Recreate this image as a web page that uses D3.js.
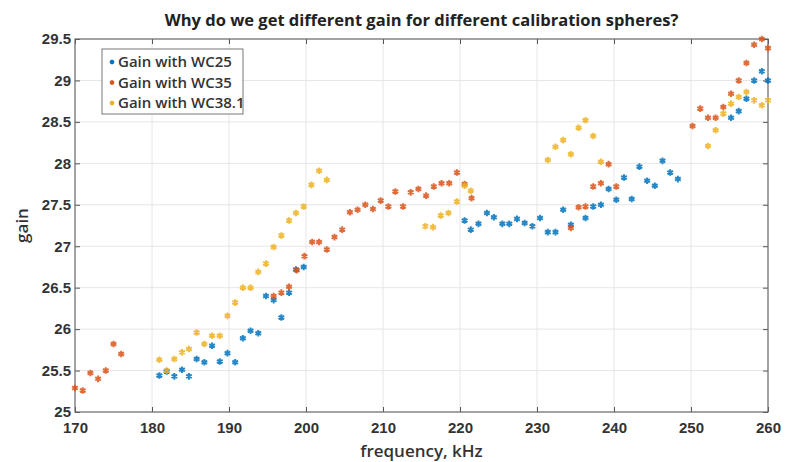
<!DOCTYPE html>
<html>
<head>
<meta charset="utf-8">
<script src="https://cdn.jsdelivr.net/npm/d3@7"></script>
<style>
  body { margin: 0; background: #fff; }
  svg { display: block; font-family: "Open Sans", sans-serif; }
</style>
</head>
<body>
<svg width="795" height="462"></svg>
<script>
// WC25 (blue)
var wc25Freq = [180.95, 181.9, 182.9, 183.9, 184.8, 185.8, 186.8, 187.8, 188.8, 189.8, 190.8, 191.8, 192.8, 193.8, 194.8, 195.8, 196.8, 197.8, 198.7, 199.7,
  220.6, 221.4, 222.4, 223.5, 224.4, 225.5, 226.4, 227.4, 228.4, 229.4, 230.4, 231.4, 232.4, 233.4, 234.4,
  236.3, 237.3, 238.3, 239.3, 240.3, 241.3, 242.3, 243.3, 244.3, 245.3, 246.3, 247.3, 248.3,
  255.2, 256.2, 257.2, 258.2, 259.2, 260];
var wc25Gain = [25.44, 25.49, 25.43, 25.51, 25.43, 25.64, 25.60, 25.80, 25.61, 25.71, 25.60, 25.89, 25.98, 25.95, 26.40, 26.35, 26.14, 26.44, 26.72, 26.75,
  27.31, 27.20, 27.27, 27.40, 27.35, 27.27, 27.27, 27.33, 27.28, 27.24, 27.34, 27.17, 27.17, 27.44, 27.26,
  27.34, 27.48, 27.50, 27.69, 27.56, 27.83, 27.57, 27.96, 27.79, 27.73, 28.03, 27.89, 27.81,
  28.55, 28.63, 28.78, 29.00, 29.11, 29.00];

// WC35 (orange)
var wc35Freq = [170, 171, 172, 173, 174, 175, 176,
  195.8, 196.8, 197.8, 198.8, 199.8, 200.8, 201.7, 202.7, 203.7, 204.7, 205.7, 206.7, 207.7, 208.7, 209.7, 210.7,
  211.6, 212.6, 213.6, 214.6, 215.6, 216.6, 217.6, 218.6, 219.6, 220.6, 221.5,
  234.4, 235.4, 236.3, 237.3, 238.3, 239.3, 240.3,
  250.2, 251.2, 252.2, 253.2, 254.2, 255.2, 256.2, 257.2, 258.2, 259.2, 260];
var wc35Gain = [25.29, 25.26, 25.47, 25.40, 25.50, 25.82, 25.70,
  26.40, 26.44, 26.51, 26.71, 26.88, 27.05, 27.05, 26.96, 27.11, 27.20, 27.41, 27.44, 27.50, 27.45, 27.55, 27.48,
  27.66, 27.48, 27.65, 27.69, 27.61, 27.72, 27.76, 27.76, 27.89, 27.75, 27.58,
  27.22, 27.47, 27.48, 27.72, 27.76, 27.99, 27.72,
  28.45, 28.66, 28.55, 28.55, 28.68, 28.84, 29.00, 29.21, 29.43, 29.50, 29.39];

// WC38.1 (yellow)
var wc381Freq = [180.95, 181.9, 182.9, 183.9, 184.8, 185.8, 186.8, 187.8, 188.8, 189.8, 190.8, 191.8, 192.8, 193.8, 194.8, 195.8, 196.8, 197.8, 198.7, 199.7, 200.7, 201.7, 202.7,
  215.5, 216.5, 217.5, 218.5, 219.6, 220.6, 221.4,
  231.4, 232.4, 233.4, 234.4, 235.4, 236.3, 237.3, 238.3,
  252.2, 253.2, 254.2, 255.2, 256.2, 257.2, 258.2, 259.2, 260];
var wc381Gain = [25.63, 25.50, 25.64, 25.72, 25.76, 25.96, 25.82, 25.92, 25.92, 26.16, 26.32, 26.50, 26.50, 26.69, 26.79, 26.99, 27.13, 27.31, 27.40, 27.48, 27.74, 27.91, 27.80,
  27.24, 27.23, 27.37, 27.40, 27.54, 27.73, 27.67,
  28.04, 28.20, 28.28, 28.11, 28.43, 28.52, 28.33, 28.02,
  28.21, 28.40, 28.60, 28.72, 28.80, 28.86, 28.76, 28.70, 28.76];

var seriesNames = ["Gain with WC25", "Gain with WC35", "Gain with WC38.1"];
var seriesColors = ["#0072BD", "#D95319", "#EDB120"];
var xTicks = [170, 180, 190, 200, 210, 220, 230, 240, 250, 260];
var yTicks = [25, 25.5, 26, 26.5, 27, 27.5, 28, 28.5, 29, 29.5];

var svg = d3.select("svg"),
    margin = {top: 39, right: 27, bottom: 50, left: 75},
    width = +svg.attr("width") - margin.left - margin.right,
    height = +svg.attr("height") - margin.top - margin.bottom;

var x = d3.scaleLinear().domain([170, 260]).range([0, width]),
    y = d3.scaleLinear().domain([25, 29.5]).range([height, 0]);

var g = svg.append("g")
    .attr("transform", "translate(" + margin.left + "," + margin.top + ")");

// grid
g.append("g").selectAll("line")
  .data(xTicks.slice(1, -1))
  .enter().append("line")
    .attr("x1", function(d) { return x(d); })
    .attr("x2", function(d) { return x(d); })
    .attr("y1", 0).attr("y2", height)
    .style("stroke", "#e6e6e6");
g.append("g").selectAll("line")
  .data(yTicks.slice(1, -1))
  .enter().append("line")
    .attr("y1", function(d) { return y(d); })
    .attr("y2", function(d) { return y(d); })
    .attr("x1", 0).attr("x2", width)
    .style("stroke", "#e6e6e6");

// axes (ticks pointing inward like matlab)
function styleAxis(sel) {
  sel.select(".domain").remove();
  sel.selectAll("line").style("stroke", "#555");
  sel.selectAll("text").style("fill", "#333").style("font-size", "15px").style("font-weight", "600");
}
g.append("g")
    .attr("transform", "translate(0," + height + ")")
    .call(d3.axisBottom(x).tickValues(xTicks).tickSizeInner(-5).tickSizeOuter(0).tickPadding(10))
    .call(styleAxis);
g.append("g")
    .call(d3.axisLeft(y).tickValues(yTicks).tickFormat(d3.format("")).tickSizeInner(-5).tickSizeOuter(0).tickPadding(4))
    .call(styleAxis);
g.append("g")
    .call(d3.axisTop(x).tickValues(xTicks).tickSizeInner(-5).tickSizeOuter(0).tickFormat(""))
    .call(styleAxis);
g.append("g")
    .attr("transform", "translate(" + width + ",0)")
    .call(d3.axisRight(y).tickValues(yTicks).tickSizeInner(-5).tickSizeOuter(0).tickFormat(""))
    .call(styleAxis);

g.append("rect")
    .attr("width", width).attr("height", height)
    .style("fill", "none").style("stroke", "#666").style("stroke-width", "1.2px");

// points
var allSeries = [
  d3.zip(wc25Freq, wc25Gain),
  d3.zip(wc35Freq, wc35Gain),
  d3.zip(wc381Freq, wc381Gain)
];
var marker = d3.symbol().type(d3.symbolAsterisk).size(30);

allSeries.forEach(function(data, i) {
  g.append("g").selectAll("path")
    .data(data)
    .enter().append("path")
      .attr("d", marker)
      .attr("transform", function(d) { return "translate(" + x(d[0]) + "," + y(d[1]) + ")"; })
      .style("fill", "none")
      .style("stroke", seriesColors[i])
      .style("stroke-width", "2px")
      .style("opacity", 0.85);
});

// legend
var lg = g.append("g").attr("transform", "translate(27,10)");
lg.append("rect")
    .attr("width", 141).attr("height", 65)
    .style("fill", "#fff").style("stroke", "#777");
seriesNames.forEach(function(name, i) {
  var row = lg.append("g").attr("transform", "translate(0," + (13 + i * 20.5) + ")");
  row.append("path")
    .attr("d", d3.symbol().type(d3.symbolAsterisk).size(14))
    .attr("transform", "translate(10,0)")
    .style("fill", "none").style("stroke", seriesColors[i]).style("stroke-width", "2px");
  row.append("text")
    .attr("x", 16).attr("dy", "0.35em")
    .style("font-size", "15px").style("font-weight", "600").style("fill", "#333")
    .text(name);
});

// title and labels
svg.append("text")
    .attr("x", margin.left + width / 2).attr("y", 26)
    .attr("text-anchor", "middle")
    .style("font-size", "16.5px").style("font-weight", "bold").style("fill", "#222")
    .text("Why do we get different gain for different calibration spheres?");

svg.append("text")
    .attr("x", margin.left + width / 2).attr("y", 457)
    .attr("text-anchor", "middle")
    .style("font-size", "17px").style("font-weight", "600").style("fill", "#333")
    .text("frequency, kHz");

svg.append("text")
    .attr("transform", "translate(28," + (margin.top + height / 2) + ") rotate(-90)")
    .attr("text-anchor", "middle")
    .style("font-size", "17px").style("font-weight", "600").style("fill", "#333")
    .text("gain");
</script>
</body>
</html>
